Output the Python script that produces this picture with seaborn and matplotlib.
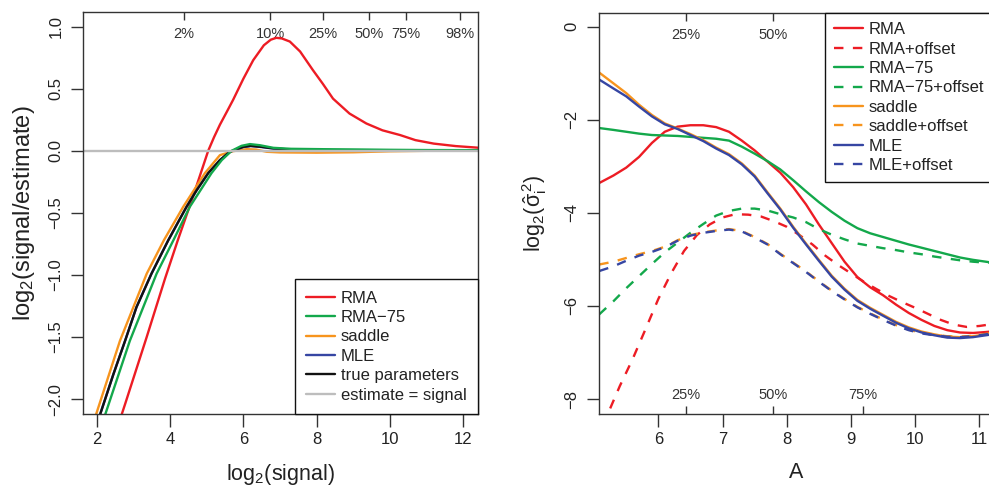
import numpy as np
import pandas as pd
import matplotlib
matplotlib.use("Agg")
import matplotlib.pyplot as plt
from matplotlib.lines import Line2D
import seaborn as sns

# ---- left panel: log2(signal/estimate) vs log2(signal) ----
rma_x = [2.6, 2.67, 2.77, 3.36, 3.86, 4.21, 4.6, 5.04, 5.2, 5.36, 5.55, 5.72, 6.0, 6.27,
         6.56, 6.75, 6.9, 7.05, 7.27, 7.55, 7.9, 8.17, 8.45, 8.9, 9.36, 9.8, 10.28, 10.7,
         11.2, 11.8, 12.41]
rma_y = [-2.2, -2.13, -2.04, -1.5, -1.03, -0.72, -0.39, 0.0, 0.11, 0.21, 0.315, 0.41, 0.58,
         0.73, 0.85, 0.895, 0.91, 0.905, 0.88, 0.80, 0.65, 0.54, 0.42, 0.30, 0.22, 0.165,
         0.127, 0.086, 0.058, 0.038, 0.025]

rma75_x = [2.15, 2.22, 2.9, 3.63, 4.09, 4.54, 5.13, 5.41, 5.68, 5.95, 6.18, 6.45, 6.82,
           7.3, 8.17, 9.0, 10.0, 11.0, 12.41]
rma75_y = [-2.2, -2.13, -1.53, -0.99, -0.72, -0.45, -0.18, -0.075, 0.0, 0.04, 0.054, 0.045,
           0.024, 0.016, 0.013, 0.011, 0.008, 0.006, 0.005]

saddle_x = [1.9, 1.97, 2.63, 3.36, 3.83, 4.36, 4.95, 5.36, 5.72, 6.09, 6.35, 6.64, 7.0,
            8.0, 9.0, 10.0, 11.0, 12.41]
saddle_y = [-2.2, -2.13, -1.53, -0.99, -0.72, -0.45, -0.18, -0.035, -0.003, 0.013, 0.01,
            -0.008, -0.013, -0.015, -0.012, -0.004, 0.0, 0.0]

mle_x = [2.0, 2.08, 2.45, 2.77, 3.08, 3.49, 3.95, 4.45, 4.72, 5.04, 5.36, 5.63, 6.0, 6.2,
         6.5, 6.82, 7.27, 8.0, 9.0, 10.0, 11.0, 12.41]
mle_y = [-2.2, -2.13, -1.80, -1.53, -1.26, -0.99, -0.72, -0.45, -0.32, -0.18, -0.075,
         -0.008, 0.03, 0.038, 0.03, 0.018, 0.01, 0.005, 0.002, 0.001, 0.0, 0.0]

true_x = [2.0, 2.08, 2.45, 2.77, 3.08, 3.49, 3.95, 4.45, 4.72, 5.04, 5.36, 5.63, 6.0, 6.2,
          6.5, 6.82, 7.27, 8.0, 9.0, 10.0, 11.0, 12.41]
true_y = [-2.2, -2.13, -1.80, -1.53, -1.26, -0.99, -0.72, -0.45, -0.32, -0.18, -0.075,
          -0.008, 0.032, 0.040, 0.032, 0.019, 0.011, 0.005, 0.002, 0.001, 0.0, 0.0]

ident_x = [1.62, 12.41]
ident_y = [0.0, 0.0]

signal_pct_pos = [4.37, 6.73, 8.17, 9.43, 10.43, 11.93]
signal_pct_lab = ["2%", "10%", "25%", "50%", "75%", "98%"]

# ---- right panel: log2(sigma_i^2) vs A ----
a_grid = [5.08, 5.3, 5.5, 5.7, 5.9, 6.1, 6.3, 6.5, 6.7, 6.9, 7.1, 7.3, 7.5, 7.7, 7.9, 8.1,
          8.3, 8.5, 8.7, 8.9, 9.1, 9.3, 9.5, 9.7, 9.9, 10.1, 10.3, 10.5, 10.7, 10.9, 11.1, 11.25]

s_rma = [-3.36, -3.20, -3.03, -2.80, -2.50, -2.26, -2.15, -2.12, -2.12, -2.16, -2.26, -2.45,
         -2.66, -2.90, -3.14, -3.45, -3.82, -4.25, -4.65, -5.05, -5.38, -5.60, -5.77, -5.97,
         -6.15, -6.30, -6.43, -6.52, -6.57, -6.58, -6.56, -6.54]
s_rma75 = [-2.18, -2.22, -2.26, -2.30, -2.33, -2.34, -2.35, -2.37, -2.39, -2.41, -2.45, -2.58,
           -2.73, -2.89, -3.07, -3.30, -3.54, -3.77, -3.98, -4.17, -4.33, -4.44, -4.52, -4.60,
           -4.68, -4.75, -4.82, -4.89, -4.96, -5.01, -5.05, -5.08]
s_saddle = [-0.99, -1.22, -1.43, -1.68, -1.90, -2.08, -2.19, -2.31, -2.44, -2.60, -2.74, -2.94,
            -3.20, -3.56, -3.91, -4.30, -4.66, -5.01, -5.35, -5.63, -5.87, -6.04, -6.19, -6.34,
            -6.46, -6.55, -6.61, -6.66, -6.67, -6.65, -6.61, -6.58]
s_mle = [-1.14, -1.33, -1.50, -1.72, -1.93, -2.10, -2.20, -2.33, -2.46, -2.62, -2.76, -2.96,
         -3.22, -3.58, -3.93, -4.32, -4.68, -5.03, -5.37, -5.65, -5.89, -6.06, -6.21, -6.36,
         -6.48, -6.57, -6.63, -6.68, -6.69, -6.67, -6.63, -6.60]

rma_off_x = [5.25, 5.4, 5.6, 5.8, 6.0, 6.2, 6.4, 6.6, 6.8, 7.0, 7.2, 7.4, 7.6, 7.8, 8.0, 8.2,
             8.4, 8.6, 8.8, 9.0, 9.2, 9.4, 9.6, 9.8, 10.0, 10.2, 10.4, 10.6, 10.8, 11.0, 11.25]
rma_off_y = [-8.20, -7.72, -7.14, -6.50, -5.85, -5.30, -4.82, -4.48, -4.25, -4.10, -4.03,
             -4.04, -4.08, -4.18, -4.30, -4.48, -4.68, -4.92, -5.12, -5.30, -5.48, -5.64,
             -5.79, -5.92, -6.04, -6.17, -6.30, -6.40, -6.45, -6.43, -6.38]
s_rma75_off = [-6.18, -5.90, -5.62, -5.36, -5.10, -4.85, -4.64, -4.43, -4.24, -4.06, -3.96,
               -3.91, -3.91, -3.95, -4.03, -4.10, -4.20, -4.35, -4.47, -4.57, -4.66, -4.71,
               -4.76, -4.80, -4.85, -4.89, -4.94, -4.98, -5.02, -5.05, -5.07, -5.08]
s_saddle_off = [-5.11, -5.05, -4.97, -4.89, -4.82, -4.73, -4.59, -4.48, -4.42, -4.38, -4.35,
                -4.39, -4.52, -4.67, -4.88, -5.07, -5.26, -5.47, -5.67, -5.85, -6.02, -6.16,
                -6.29, -6.41, -6.51, -6.58, -6.62, -6.65, -6.66, -6.64, -6.60, -6.57]
s_mle_off = [-5.25, -5.15, -5.03, -4.92, -4.84, -4.74, -4.60, -4.49, -4.43, -4.39, -4.36,
             -4.40, -4.53, -4.68, -4.89, -5.08, -5.27, -5.48, -5.68, -5.86, -6.03, -6.17,
             -6.30, -6.42, -6.52, -6.59, -6.63, -6.66, -6.67, -6.65, -6.61, -6.58]

a_pct_pos = [6.43, 7.78, 9.18]
a_pct_lab = ["25%", "50%", "75%"]

RED, GREEN, ORANGE, BLUE = "#ED1C24", "#13A84B", "#F7941D", "#3646A3"
BLACK, GRAY = "#111111", "#BDBDBD"
DASH = (0, (4, 4))
LW = 1.7

sns.set_theme(style="white")
plt.rcParams["font.family"] = ["Liberation Sans", "DejaVu Sans"]
plt.rcParams["mathtext.fontset"] = "custom"
plt.rcParams["mathtext.rm"] = "Liberation Sans"
plt.rcParams["mathtext.it"] = "Liberation Sans:italic"
plt.rcParams["mathtext.bf"] = "Liberation Sans:bold"

fig = plt.figure(figsize=(9.89, 4.87), dpi=100)
ax1 = fig.add_axes([83 / 989, 1 - 414 / 487, 395 / 989, 402 / 487])
ax2 = fig.add_axes([599 / 989, 1 - 414 / 487, 394.5 / 989, 401 / 487])

AXC = "#333333"


def style_axes(ax):
    for sp in ax.spines.values():
        sp.set_color(AXC)
        sp.set_linewidth(1.0)
    ax.tick_params(axis="both", direction="out", length=9, width=1.0, color=AXC,
                   labelsize=12, labelcolor="#222222", pad=4, bottom=True, left=True)
    ax.tick_params(axis="y", labelrotation=90, pad=5)
    for lab in ax.get_yticklabels():
        lab.set_va("center")


def draw(ax, x, y, color, ls="-"):
    sns.lineplot(x=x, y=y, ax=ax, color=color, linewidth=LW, linestyle=ls,
                 estimator=None, sort=False, legend=False)


def legend_box(ax, handles, labels, loc, pad):
    leg = ax.legend(handles, labels, loc=loc, borderaxespad=0, fontsize=12,
                    frameon=True, fancybox=False, framealpha=1, edgecolor=BLACK,
                    handlelength=1.7, handletextpad=0.38, labelspacing=0.265, borderpad=pad)
    leg.get_frame().set_linewidth(1.0)
    leg.set_zorder(10)
    for t in leg.get_texts():
        t.set_color("#222222")
    return leg


# left panel
draw(ax1, rma_x, rma_y, RED)
draw(ax1, saddle_x, saddle_y, ORANGE)
draw(ax1, mle_x, mle_y, BLUE)
draw(ax1, true_x, true_y, BLACK)
draw(ax1, rma75_x, rma75_y, GREEN)
draw(ax1, ident_x, ident_y, GRAY)

ax1.set_xlim(1.62, 12.41)
ax1.set_ylim(-2.12, 1.118)
ax1.set_xticks([2, 4, 6, 8, 10, 12])
ax1.set_yticks([-2.0, -1.5, -1.0, -0.5, 0.0, 0.5, 1.0])
ax1.set_yticklabels(["\u22122.0", "\u22121.5", "\u22121.0", "\u22120.5", "0.0", "0.5", "1.0"])
style_axes(ax1)
ax1.set_xlabel("log$_2$(signal)", fontsize=15.5, color="#222222")
ax1.set_ylabel("log$_2$(signal/estimate)", fontsize=17, color="#222222")
ax1.xaxis.set_label_coords(0.5, -0.12)
ax1.yaxis.set_label_coords(-0.116, 0.5)

top1 = ax1.secondary_xaxis("top")
top1.set_xticks(signal_pct_pos, signal_pct_lab)
top1.tick_params(direction="in", length=6, width=1.0, color=AXC, pad=-21,
                 labelsize=10.5, labelcolor="#333333")
top1.spines["top"].set_visible(False)

left_labels = ["RMA", "RMA\u221275", "saddle", "MLE", "true parameters", "estimate = signal"]
left_colors = [RED, GREEN, ORANGE, BLUE, BLACK, GRAY]
h1 = [Line2D([], [], color=c, lw=LW) for c in left_colors]
legend_box(ax1, h1, left_labels, "lower right", 0.68)

# right panel
draw(ax2, a_grid, s_rma, RED)
draw(ax2, rma_off_x, rma_off_y, RED, DASH)
draw(ax2, a_grid, s_rma75, GREEN)
draw(ax2, a_grid, s_rma75_off, GREEN, DASH)
draw(ax2, a_grid, s_saddle, ORANGE)
draw(ax2, a_grid, s_saddle_off, ORANGE, DASH)
draw(ax2, a_grid, s_mle, BLUE)
draw(ax2, a_grid, s_mle_off, BLUE, DASH)

ax2.set_xlim(5.076, 11.22)
ax2.set_ylim(-8.32, 0.29)
ax2.set_xticks([6, 7, 8, 9, 10, 11])
ax2.set_yticks([0, -2, -4, -6, -8])
ax2.set_yticklabels(["0", "\u22122", "\u22124", "\u22126", "\u22128"])
style_axes(ax2)
ax2.set_xlabel("A", fontsize=15.5, color="#222222")
ax2.set_ylabel(r"log$_2$($\hat{\mathrm{\sigma}}_{\mathrm{i}}^{\,2}$)", fontsize=15.5,
               color="#222222")
ax2.xaxis.set_label_coords(0.5, -0.12)
ax2.yaxis.set_label_coords(-0.128, 0.5)

top2 = ax2.secondary_xaxis("top")
top2.set_xticks(a_pct_pos[:2], a_pct_lab[:2])
top2.tick_params(direction="in", length=6, width=1.0, color=AXC, pad=-21,
                 labelsize=10.5, labelcolor="#333333")
top2.spines["top"].set_visible(False)

bot2 = ax2.secondary_xaxis("bottom")
bot2.set_xticks(a_pct_pos, a_pct_lab)
bot2.tick_params(direction="in", length=6, width=1.0, color=AXC, pad=-19,
                 labelsize=10.5, labelcolor="#333333")
bot2.spines["bottom"].set_visible(False)

right_labels = ["RMA", "RMA+offset", "RMA\u221275", "RMA\u221275+offset",
                "saddle", "saddle+offset", "MLE", "MLE+offset"]
right_colors = [RED, RED, GREEN, GREEN, ORANGE, ORANGE, BLUE, BLUE]
right_styles = ["-", DASH] * 4
h2 = [Line2D([], [], color=c, lw=LW, linestyle=s) for c, s in zip(right_colors, right_styles)]
legend_box(ax2, h2, right_labels, "upper right", 0.55)

fig.savefig("out.png", dpi=100)
